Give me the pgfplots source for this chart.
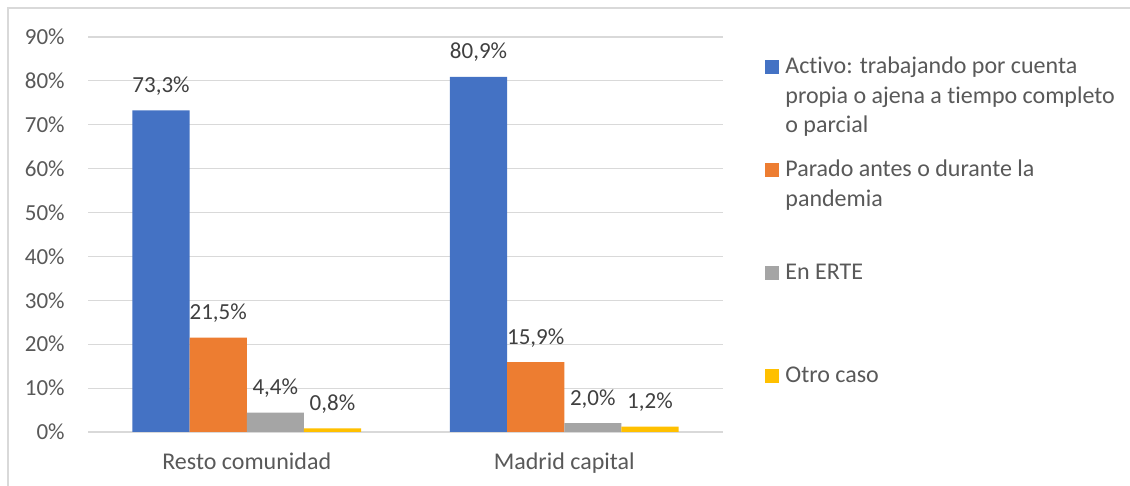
\documentclass[border=0pt]{standalone}
\usepackage{pgfplots}
\pgfplotsset{compat=1.18}
\usepackage{fontspec}
\setmainfont{Carlito}[Ligatures=NoCommon]
\definecolor{cblue}{HTML}{4472C4}
\definecolor{corange}{HTML}{ED7D31}
\definecolor{cgray}{HTML}{A5A5A5}
\definecolor{cyellow}{HTML}{FFC000}
\definecolor{gridgray}{HTML}{D9D9D9}
\definecolor{txtgray}{HTML}{595959}
\definecolor{lblgray}{HTML}{404040}
\begin{document}
\begin{tikzpicture}[font=\fontsize{11.5pt}{14pt}\selectfont]
\useasboundingbox (0,0) rectangle (565pt,243pt);
\fill[white] (0,0) rectangle (565pt,243pt);
\draw[color=gridgray, line width=0.7pt] (4pt,-10pt) -- (4pt,239pt) -- (580pt,239pt);
\begin{axis}[
  at={(44pt,27pt)}, anchor=south west,
  scale only axis, width=317.5pt, height=197.5pt,
  xmin=-0.5, xmax=1.5, ymin=0, ymax=90,
  ytick={0,10,...,90},
  xtick={0,1},
  xticklabels={Resto comunidad, Madrid capital},
  ymajorgrids,
  grid style={color=gridgray, line width=0.6pt},
  axis line style={draw=none},
  major tick length=0pt,
  tick style={draw=none},
  /pgf/number format/assume math mode=true,
  yticklabel={\pgfmathprintnumber{\tick}\%},
  yticklabel style={anchor=east, inner sep=0pt, xshift=-11.5pt, text=txtgray},
  xticklabel style={anchor=base, inner sep=0pt, yshift=-19pt, text=txtgray, font=\fontsize{12pt}{14pt}\selectfont},
  nodes near coords={\pgfmathprintnumber[fixed,fixed zerofill,precision=1,use comma,assume math mode=true]{\pgfplotspointmeta}\%},
  every node near coord/.append style={anchor=base, inner sep=0pt, yshift=9pt, text=lblgray, font=\fontsize{11.5pt}{14pt}\selectfont},
  clip=false,
]
% x positions are category centre (0 or 1) plus the bar offset
\addplot[ybar, bar width=0.18, bar shift=0pt, fill=cblue, draw=none] coordinates {(-0.27,73.3) (0.73,80.9)};
\addplot[ybar, bar width=0.18, bar shift=0pt, fill=corange, draw=none] coordinates {(-0.09,21.5) (0.91,15.9)};
\addplot[ybar, bar width=0.18, bar shift=0pt, fill=cgray, draw=none] coordinates {(0.09,4.4) (1.09,2.0)};
\addplot[ybar, bar width=0.18, bar shift=0pt, fill=cyellow, draw=none] coordinates {(0.27,0.8) (1.27,1.2)};
\end{axis}
% legend
\begin{scope}[font=\fontsize{12pt}{14pt}\selectfont]
\fill[cblue] (382.5pt,206pt) rectangle ++(7pt,7pt);
\node[anchor=base west, inner sep=0pt, text=txtgray] at (392.5pt,206pt) {Activo: trabajando por cuenta};
\node[anchor=base west, inner sep=0pt, text=txtgray] at (392.5pt,191.25pt) {propia o ajena a tiempo completo};
\node[anchor=base west, inner sep=0pt, text=txtgray] at (392.5pt,176.5pt) {o parcial};
\fill[corange] (382.5pt,154.5pt) rectangle ++(7pt,7pt);
\node[anchor=base west, inner sep=0pt, text=txtgray] at (392.5pt,154.5pt) {Parado antes o durante la};
\node[anchor=base west, inner sep=0pt, text=txtgray] at (392.5pt,139.75pt) {pandemia};
\fill[cgray] (382.5pt,103pt) rectangle ++(7pt,7pt);
\node[anchor=base west, inner sep=0pt, text=txtgray] at (392.5pt,103pt) {En ERTE};
\fill[cyellow] (382.5pt,51.5pt) rectangle ++(7pt,7pt);
\node[anchor=base west, inner sep=0pt, text=txtgray] at (392.5pt,51.5pt) {Otro caso};
\end{scope}
\end{tikzpicture}
\end{document}
